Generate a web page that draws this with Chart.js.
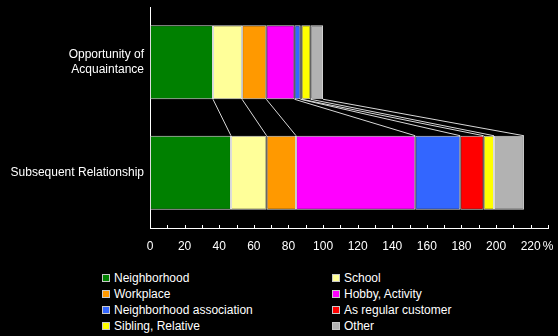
<!DOCTYPE html>
<html>
<head>
<meta charset="utf-8">
<script src="https://cdn.jsdelivr.net/npm/chart.js@4/dist/chart.umd.min.js"></script>
<style>
  html, body { margin: 0; padding: 0; background: #000; }
  #wrap { position: relative; width: 558px; height: 336px; overflow: hidden; }
  #legend {
    position: absolute; left: 102px; top: 270px;
    display: grid; grid-template-columns: 230px 200px; grid-auto-rows: 16px;
    font: 12px "Liberation Sans", Arial, sans-serif; color: #fff;
  }
  #legend div { display: flex; align-items: center; white-space: nowrap; }
  #legend span.box {
    width: 6px; height: 6px; border: 1px solid #c8c8c8; margin-right: 4px; flex: none;
  }
</style>
</head>
<body>
<div id="wrap">
  <canvas id="myChart" width="558" height="262"></canvas>
  <div id="legend"></div>
</div>
<script>
// categories (two stacked rows)
const categories = [["Opportunity of", "Acquaintance"], "Subsequent Relationship"];

// series values, % per row
const neighborhood = [36.4, 46.8];
const school = [16.8, 20.6];
const workplace = [14.0, 17.0];
const hobby = [16.3, 68.9];
const association = [3.4, 26.0];
const customer = [0.7, 13.5];
const sibling = [5.2, 6.0];
const other = [7.2, 17.3];

const seriesNames = ["Neighborhood", "School", "Workplace", "Hobby, Activity",
  "Neighborhood association", "As regular customer", "Sibling, Relative", "Other"];
const seriesValues = [neighborhood, school, workplace, hobby, association, customer, sibling, other];
const seriesColors = ["#008000", "#ffff99", "#ff9900", "#ff00ff",
  "#3366ff", "#ff0000", "#ffff00", "#b2b2b2"];

// x axis ticks
const xMax = 230;
const xStep = 10;
const xLabelStep = 20;
const unitLabel = "%";

const FONT = "'Liberation Sans', Arial, sans-serif";

// lines joining segment ends of the two bars
const seriesLines = {
  id: "seriesLines",
  afterDatasetsDraw(chart) {
    const ctx = chart.ctx;
    ctx.save();
    ctx.strokeStyle = "#d8d8d8";
    ctx.lineWidth = 1;
    chart.data.datasets.forEach((ds, i) => {
      const els = chart.getDatasetMeta(i).data;
      const a = els[0], b = els[1];
      ctx.beginPath();
      ctx.moveTo(a.x, a.y + a.height / 2);
      ctx.lineTo(b.x, b.y - b.height / 2);
      ctx.stroke();
    });
    ctx.restore();
  }
};

// small tick marks pointing up from the x axis
const innerTicks = {
  id: "innerTicks",
  afterDraw(chart) {
    const ctx = chart.ctx;
    const x = chart.scales.x;
    const bottom = chart.chartArea.bottom;
    ctx.save();
    ctx.strokeStyle = "#ffffff";
    ctx.lineWidth = 1;
    for (let v = xStep; v <= xMax; v += xStep) {
      const px = Math.round(x.getPixelForValue(v)) + 0.5;
      ctx.beginPath();
      ctx.moveTo(px, bottom);
      ctx.lineTo(px, bottom - 3);
      ctx.stroke();
    }
    ctx.restore();
  }
};

new Chart(document.getElementById("myChart").getContext("2d"), {
  type: "bar",
  data: {
    labels: categories,
    datasets: seriesNames.map((name, i) => ({
      label: name,
      data: seriesValues[i],
      backgroundColor: seriesColors[i],
      borderColor: "#dcdcdc",
      borderWidth: 1,
      borderSkipped: false,
      categoryPercentage: 1,
      barPercentage: 0.67
    }))
  },
  options: {
    indexAxis: "y",
    responsive: false,
    animation: false,
    layout: { padding: { top: 7, right: 10, left: 0, bottom: 0 } },
    plugins: { legend: { display: false }, tooltip: { enabled: false } },
    scales: {
      x: {
        stacked: true,
        min: 0,
        max: xMax,
        afterFit(scale) {
          scale.height = 34;
          scale.paddingLeft = 0;
          scale.paddingRight = 0;
        },
        grid: { display: false, drawTicks: false },
        border: { display: true, color: "#ffffff", width: 1 },
        ticks: {
          stepSize: xStep,
          autoSkip: false,
          maxRotation: 0,
          padding: 11,
          color: "#ffffff",
          font: { family: FONT, size: 12 },
          callback(v) {
            if (v === xMax) return unitLabel;
            return v % xLabelStep === 0 ? String(v) : "";
          }
        }
      },
      y: {
        stacked: true,
        afterFit(scale) {
          scale.width = 150;
          scale.paddingTop = 0;
          scale.paddingBottom = 0;
        },
        grid: { display: false, drawTicks: false },
        border: { display: true, color: "#ffffff", width: 1 },
        ticks: {
          padding: 6,
          color: "#ffffff",
          font: { family: FONT, size: 12, lineHeight: 1.25 }
        }
      }
    }
  },
  plugins: [seriesLines, innerTicks]
});

// legend in two columns
const legend = document.getElementById("legend");
seriesNames.forEach((name, i) => {
  const item = document.createElement("div");
  const box = document.createElement("span");
  box.className = "box";
  box.style.background = seriesColors[i];
  item.appendChild(box);
  item.appendChild(document.createTextNode(name));
  legend.appendChild(item);
});
</script>
</body>
</html>
